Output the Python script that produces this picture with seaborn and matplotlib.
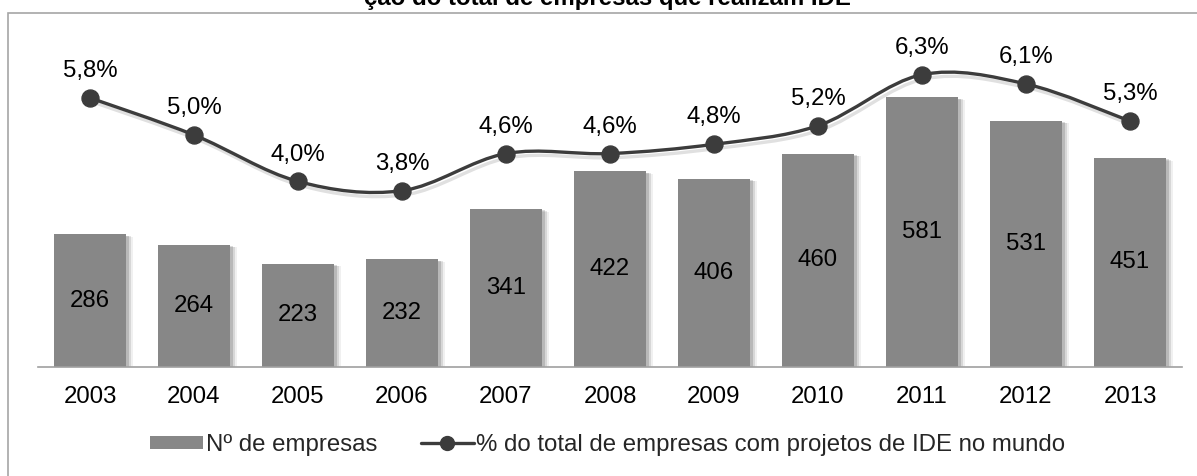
import numpy as np
import matplotlib
matplotlib.use("Agg")
import matplotlib.pyplot as plt
import seaborn as sns
from matplotlib.path import Path
from matplotlib.patches import PathPatch, Patch, Rectangle
from matplotlib.lines import Line2D
import matplotlib.patheffects as pe

# ---- data ----
years = ["2003", "2004", "2005", "2006", "2007", "2008", "2009", "2010", "2011", "2012", "2013"]
n_empresas = [286, 264, 223, 232, 341, 422, 406, 460, 581, 531, 451]
pct_ide = [5.8, 5.0, 4.0, 3.8, 4.6, 4.6, 4.8, 5.2, 6.3, 6.1, 5.3]
pct_labels = ["5,8%", "5,0%", "4,0%", "3,8%", "4,6%", "4,6%", "4,8%", "5,2%", "6,3%", "6,1%", "5,3%"]
title_text = "ção do total de empresas que realizam IDE"
legend_bar = "Nº de empresas"
legend_line = "% do total de empresas com projetos de IDE no mundo"

sns.set_theme(style="white")
plt.rcParams["font.family"] = ["Liberation Sans", "DejaVu Sans"]

W, H = 1197, 476
fig = plt.figure(figsize=(W / 100, H / 100), dpi=100)
fig.patch.set_facecolor("white")

# axes placement (pixels)
left, right = 38, 1182
base_y = 367
top_y = base_y - 700 * 0.464
ax = fig.add_axes([left / W, (H - base_y) / H, (right - left) / W, (base_y - top_y) / H])

BAR_C = "#878787"
LINE_C = "#3c3c3c"
FS = 17.3

sns.barplot(x=years, y=n_empresas, color=BAR_C, width=0.70, ax=ax, saturation=1, zorder=2)
for p in ax.patches:
    p.set_path_effects([
        pe.SimplePatchShadow(offset=(5, -2), shadow_rgbFace="black", alpha=0.06),
        pe.SimplePatchShadow(offset=(3.5, -1.5), shadow_rgbFace="black", alpha=0.10),
        pe.SimplePatchShadow(offset=(2, -1), shadow_rgbFace="black", alpha=0.14),
        pe.Normal(),
    ])
    p.set_edgecolor("none")

ax.set_ylim(0, 700)
ax.set_xlim(-0.5, len(years) - 0.5)
ax.set_xlabel("")
ax.set_ylabel("")
ax.set_yticks([])
for s in ["top", "left", "right"]:
    ax.spines[s].set_visible(False)
ax.spines["bottom"].set_color("#a0a0a0")
ax.spines["bottom"].set_linewidth(1.2)
ax.tick_params(axis="x", length=0, pad=14, labelsize=FS, labelcolor="black")

# bar value labels centered
for i, v in enumerate(n_empresas):
    ax.text(i, v / 2, str(v), ha="center", va="center", fontsize=FS, color="black", zorder=5)

# secondary axis for percentages
ax2 = ax.twinx()
ax2.set_ylim(0, 7)
ax2.set_yticks([])
for s in ax2.spines.values():
    s.set_visible(False)

xs = np.arange(len(years), dtype=float)
ys = np.array(pct_ide, dtype=float)
# smoothed path (Catmull-Rom bezier, as Excel's smoothed line)
verts = [(xs[0], ys[0])]
codes = [Path.MOVETO]
npts = len(xs)
for i in range(npts - 1):
    p0 = np.array([xs[max(i - 1, 0)], ys[max(i - 1, 0)]])
    p1 = np.array([xs[i], ys[i]])
    p2 = np.array([xs[i + 1], ys[i + 1]])
    p3 = np.array([xs[min(i + 2, npts - 1)], ys[min(i + 2, npts - 1)]])
    c1 = p1 + (p2 - p0) / 6.0
    c2 = p2 - (p3 - p1) / 6.0
    verts += [tuple(c1), tuple(c2), tuple(p2)]
    codes += [Path.CURVE4] * 3
curve = PathPatch(Path(verts, codes), facecolor="none", edgecolor=LINE_C, lw=2.4, zorder=3,
                  capstyle="round")
curve.set_path_effects([pe.SimpleLineShadow(offset=(2, -3), shadow_color="black", alpha=0.12),
                        pe.Normal()])
ax2.add_patch(curve)

sns.scatterplot(x=xs, y=ys, ax=ax2, color=LINE_C, s=150, edgecolor=LINE_C, zorder=4, legend=False)

for x, y, lab in zip(xs, ys, pct_labels):
    ax2.annotate(lab, (x, y), xytext=(0, 15), textcoords="offset points",
                 ha="center", va="baseline", fontsize=FS, color="black", zorder=5)

# frame
fig.patches.append(Rectangle((8 / W, -0.2), 1.2, 1.2 - 13 / H, transform=fig.transFigure,
                             facecolor="none", edgecolor="#a6a6a6", lw=1.2, zorder=0))

# clipped title (the reference shows only its lower part)
fig.text(607 / W, 1 - 5 / H, title_text, ha="center", va="baseline", fontsize=FS,
         fontweight="bold", color="black")

# legend
handles = [Patch(facecolor=BAR_C, edgecolor="none"),
           Line2D([0], [0], color=LINE_C, lw=2.4, marker="o", markersize=10,
                  markerfacecolor=LINE_C, markeredgecolor=LINE_C)]
fig.legend(handles, [legend_bar, legend_line], loc="center", bbox_to_anchor=(608 / W, 1 - 445 / H),
           ncol=2, frameon=False, fontsize=FS, handlelength=2.2, handleheight=0.5,
           handletextpad=0.12, columnspacing=1.8)

fig.savefig("out.png", dpi=100, facecolor="white")
